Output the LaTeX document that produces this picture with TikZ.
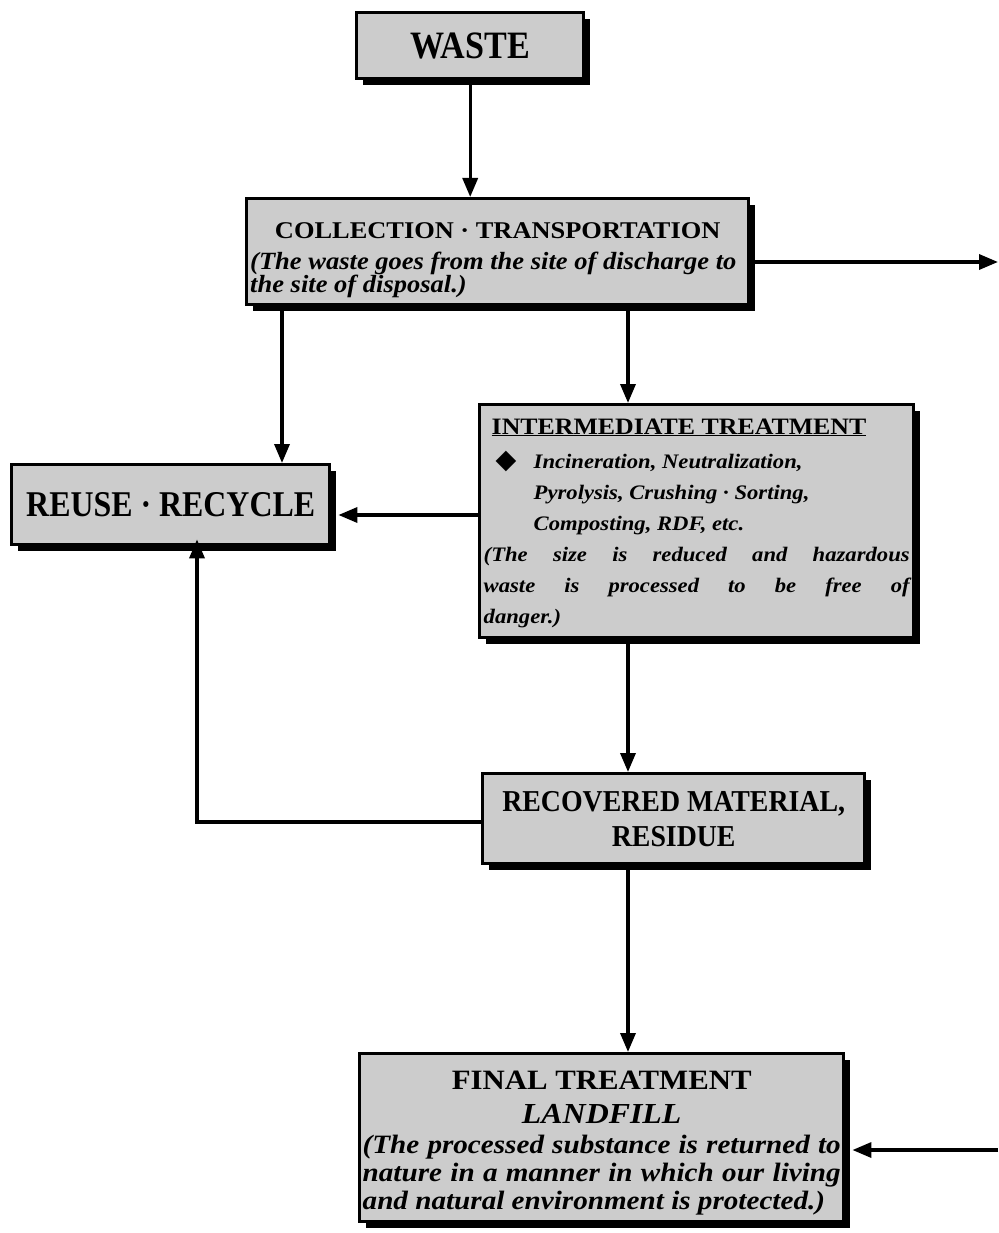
\documentclass[tikz,border=0pt]{standalone}
\usepackage{graphicx}
\usepackage{fontspec}
\setmainfont{Liberation Serif}[FakeStretch=1.1]
\newfontfamily\descfont{Liberation Serif}[FakeStretch=1.2]
\newfontfamily\symfont{DejaVu Sans}
\usetikzlibrary{arrows.meta,shadows}
\definecolor{boxfill}{gray}{0.80}
\setlength\parindent{0pt}
\hyphenpenalty=10000
\tolerance=10000
\hbadness=10000
\begin{document}
\begin{tikzpicture}[x=1pt,y=-1pt,
  box/.style={draw=black, line width=3.4pt, fill=boxfill,
    drop shadow={shadow xshift=6pt, shadow yshift=-6pt, fill=black, opacity=1},
    anchor=north west, inner sep=0pt, font=\bfseries},
  arr/.style={line width=3.4pt, -{Triangle[length=19pt,width=15pt]}}]
\useasboundingbox (0,0) rectangle (998,1233);
\fill[white] (0,0) rectangle (998,1233);

\node[box, minimum width=227pt, minimum height=66pt,
  font=\bfseries\fontsize{31}{36}\selectfont] (waste) at (355,11) {\scalebox{1}[1.25]{WASTE}};

\node[box, minimum width=502pt, minimum height=106pt, inner xsep=3.5pt] (coll) at (245,197)
 {\begin{minipage}[c][106pt][t]{495pt}
  \vspace*{24pt}
  {\centering\fontsize{24}{24}\selectfont COLLECTION · TRANSPORTATION\par}
  \vspace{8pt}
  \descfont\bfseries\itshape\fontsize{22.1}{23}\selectfont \scalebox{1}[1.12]{(The waste goes from the site of discharge to}\\ \scalebox{1}[1.12]{the site of disposal.)}\par
  \end{minipage}};

\node[box, minimum width=318pt, minimum height=80pt,
  font=\bfseries\fontsize{29}{34}\selectfont] (reuse) at (10,463) {\scalebox{1}[1.25]{REUSE · RECYCLE}};

\node[box, minimum width=434pt, minimum height=233pt, inner xsep=4pt] (inter) at (478,403)
 {\begin{minipage}[c][233pt][t]{426pt}
  \vspace*{14pt}
  \fontsize{23.5}{31}\selectfont \hspace*{8pt}\underline{INTERMEDIATE TREATMENT}\par
  \vspace{3.5pt}
  \fontsize{20.6}{31}\selectfont\itshape
  \makebox[50pt][l]{\hspace*{12pt}\smash{\upshape\symfont\fontsize{27}{31}\selectfont ◆}}Incineration, Neutralization,\par
  \hspace*{50pt}Pyrolysis, Crushing · Sorting,\par
  \hspace*{50pt}Composting, RDF, etc.\par
  (The size is reduced and hazardous\linebreak waste is processed to be free of\linebreak danger.)\par
  \end{minipage}};

\node[box, minimum width=382pt, minimum height=90pt, align=center,
  font=\bfseries\fontsize{25.3}{35}\selectfont] (recov) at (481,772)
  {\scalebox{1}[1.2]{RECOVERED MATERIAL,}\\ \scalebox{1}[1.2]{RESIDUE}};

\node[box, minimum width=484pt, minimum height=168pt, inner xsep=3pt] (final) at (358,1052)
 {\begin{minipage}[c][168pt][t]{478pt}
  \vspace*{17pt}
  {\centering\fontsize{28}{34}\selectfont FINAL TREATMENT\par
   \fontsize{29}{34}\selectfont\itshape LANDFILL\par}
  \vspace{2pt}
  \fontsize{26.5}{28}\selectfont\itshape (The processed substance is returned to\linebreak nature in a manner in which our living\linebreak and natural environment is protected.)\par
  \end{minipage}};

% helper coordinates
\coordinate (xa) at (282,0);
\coordinate (xb) at (628,0);
\coordinate (xc) at (197,0);
\coordinate (ya) at (0,515);
\coordinate (yb) at (0,822);
\coordinate (outR) at (998,262);
\coordinate (inR) at (998,1150);
\coordinate (turn) at (197,822);

\draw[arr] (waste.south) -- (waste.south |- coll.north);
\draw[arr] (coll.east |- outR) -- (outR);
\draw[arr] (coll.south -| xa) -- (reuse.north -| xa);
\draw[arr] (coll.south -| xb) -- (inter.north -| xb);
\draw[arr] (inter.west |- ya) -- ([xshift=7pt]reuse.east |- ya);
\draw[arr] (inter.south -| xb) -- (recov.north -| xb);
\draw[arr] (recov.west |- yb) -- (turn) -- ([yshift=7pt]reuse.south -| xc);
\draw[arr] (recov.south -| xb) -- (final.north -| xb);
\draw[arr] (inR) -- ([xshift=7pt]final.east |- inR);
\end{tikzpicture}
\end{document}
